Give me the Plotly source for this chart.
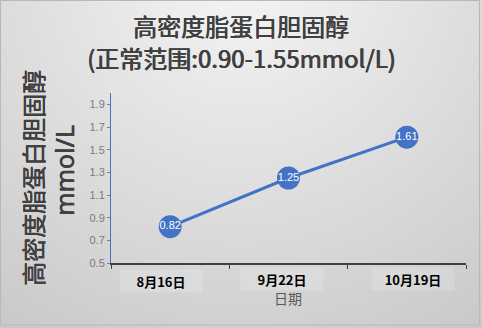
import math
import plotly.graph_objects as go

categories = ["8月16日", "9月22日", "10月19日"]
values = [0.82, 1.25, 1.61]
labels = ["0.82", "1.25", "1.61"]
y_ticks = [0.5, 0.7, 0.9, 1.1, 1.3, 1.5, 1.7, 1.9]

W, H = 482, 328
BLUE = "#4472C4"
CJK = "Noto Sans CJK SC, Noto Sans, sans-serif"
TITLE_SHADOW = "0.6px 0 0 #404040, 0 0.3px 0 #404040"

def px(x):
    return x / W

def py(y):
    return 1 - y / H

fig = go.Figure()

# background radial gradient (decoration, drawn on a hidden full-canvas axis pair)
gx = [i * W / 40 for i in range(41)]
gy = [j * H / 28 for j in range(29)]
cx, cy = 241, -30
gz = [[245 - 0.1026 * math.hypot(x - cx, y - cy) for x in gx] for y in gy]
fig.add_trace(go.Heatmap(
    x=gx, y=gy, z=gz, xaxis="x", yaxis="y",
    colorscale=[[0, "rgb(0,0,0)"], [1, "rgb(255,255,255)"]], zmin=0, zmax=255,
    zsmooth="best", showscale=False, hoverinfo="skip",
))

fig.add_trace(go.Scatter(
    x=categories, y=values, mode="lines+markers+text", xaxis="x2", yaxis="y2",
    line=dict(color=BLUE, width=3),
    marker=dict(size=23, color=BLUE),
    text=labels, textposition="middle center",
    textfont=dict(color="white", size=11, family="Liberation Sans, Arial, sans-serif"),
    cliponaxis=False, hoverinfo="skip", showlegend=False,
))

shapes = [dict(type="rect", xref="paper", yref="paper",
               x0=px(0.5), x1=px(479.5), y0=py(325), y1=py(0.5),
               fillcolor="rgba(0,0,0,0)", line=dict(color="#b8b8b8", width=1))]

annotations = [
    dict(text="高密度脂蛋白胆固醇", x=px(241), y=py(26), xref="paper", yref="paper",
         showarrow=False, xanchor="center", yanchor="middle",
         font=dict(size=24, color="#404040", family=CJK, shadow=TITLE_SHADOW)),
    dict(text="(正常范围:0.90-1.55mmol/L)", x=px(241), y=py(58), xref="paper", yref="paper",
         showarrow=False, xanchor="center", yanchor="middle",
         font=dict(size=24, color="#404040", family=CJK, shadow=TITLE_SHADOW)),
    dict(text="高密度脂蛋白胆固醇", x=px(32), y=py(178), xref="paper", yref="paper",
         showarrow=False, xanchor="center", yanchor="middle", textangle=-90,
         font=dict(size=24, color="#404040", family=CJK, shadow=TITLE_SHADOW)),
    dict(text="mmol/L", x=px(64), y=py(171), xref="paper", yref="paper",
         showarrow=False, xanchor="center", yanchor="middle", textangle=-90,
         font=dict(size=25, color="#404040", family="Noto Sans, sans-serif",
                   shadow=TITLE_SHADOW)),
    dict(text="日期", x=px(288), y=py(298), xref="paper", yref="paper",
         showarrow=False, xanchor="center", yanchor="middle",
         font=dict(size=14, color="#595959", family=CJK)),
]

# category labels (Excel places them with slight offsets)
label_shift_x = [-9, -7, 6]
label_y = [281, 279, 279]
for cat, dx, ly in zip(categories, label_shift_x, label_y):
    annotations.append(dict(
        text=cat, x=cat, xref="x2", y=py(ly), yref="paper", xshift=dx,
        showarrow=False, xanchor="center", yanchor="middle",
        width=80, height=20, bgcolor="rgba(255,255,255,0.16)", borderpad=1,
        font=dict(size=13, color="#000000", family=CJK, weight="bold"),
    ))

fig.update_layout(
    width=W, height=H,
    margin=dict(l=0, r=0, t=0, b=0),
    paper_bgcolor="#cacaca",
    plot_bgcolor="rgba(0,0,0,0)",
    shapes=shapes,
    annotations=annotations,
    xaxis=dict(domain=[0, 1], range=[0, W], visible=False, fixedrange=True),
    yaxis=dict(domain=[0, 1], range=[H, 0], visible=False, fixedrange=True),
    xaxis2=dict(
        domain=[px(111), px(466)], anchor="y2",
        type="category", range=[-0.5, 2.5],
        tickson="boundaries", ticks="outside", ticklen=4, tickcolor="#404040",
        showline=True, linecolor="#404040", linewidth=1.5,
        showgrid=False, zeroline=False, automargin=False,
        showticklabels=False,
    ),
    yaxis2=dict(
        domain=[py(263), py(93)], anchor="x2",
        range=[0.5, 2.0],
        tickvals=y_ticks, ticktext=[f"{v:.1f}" for v in y_ticks],
        ticks="outside", ticklen=3, tickcolor="#808080",
        showline=True, linecolor=BLUE, linewidth=1,
        showgrid=False, zeroline=False, automargin=False,
        tickfont=dict(size=11, color="#7a7a7a", family="Liberation Sans, Arial, sans-serif"),
    ),
)

fig.write_html("out.html")
